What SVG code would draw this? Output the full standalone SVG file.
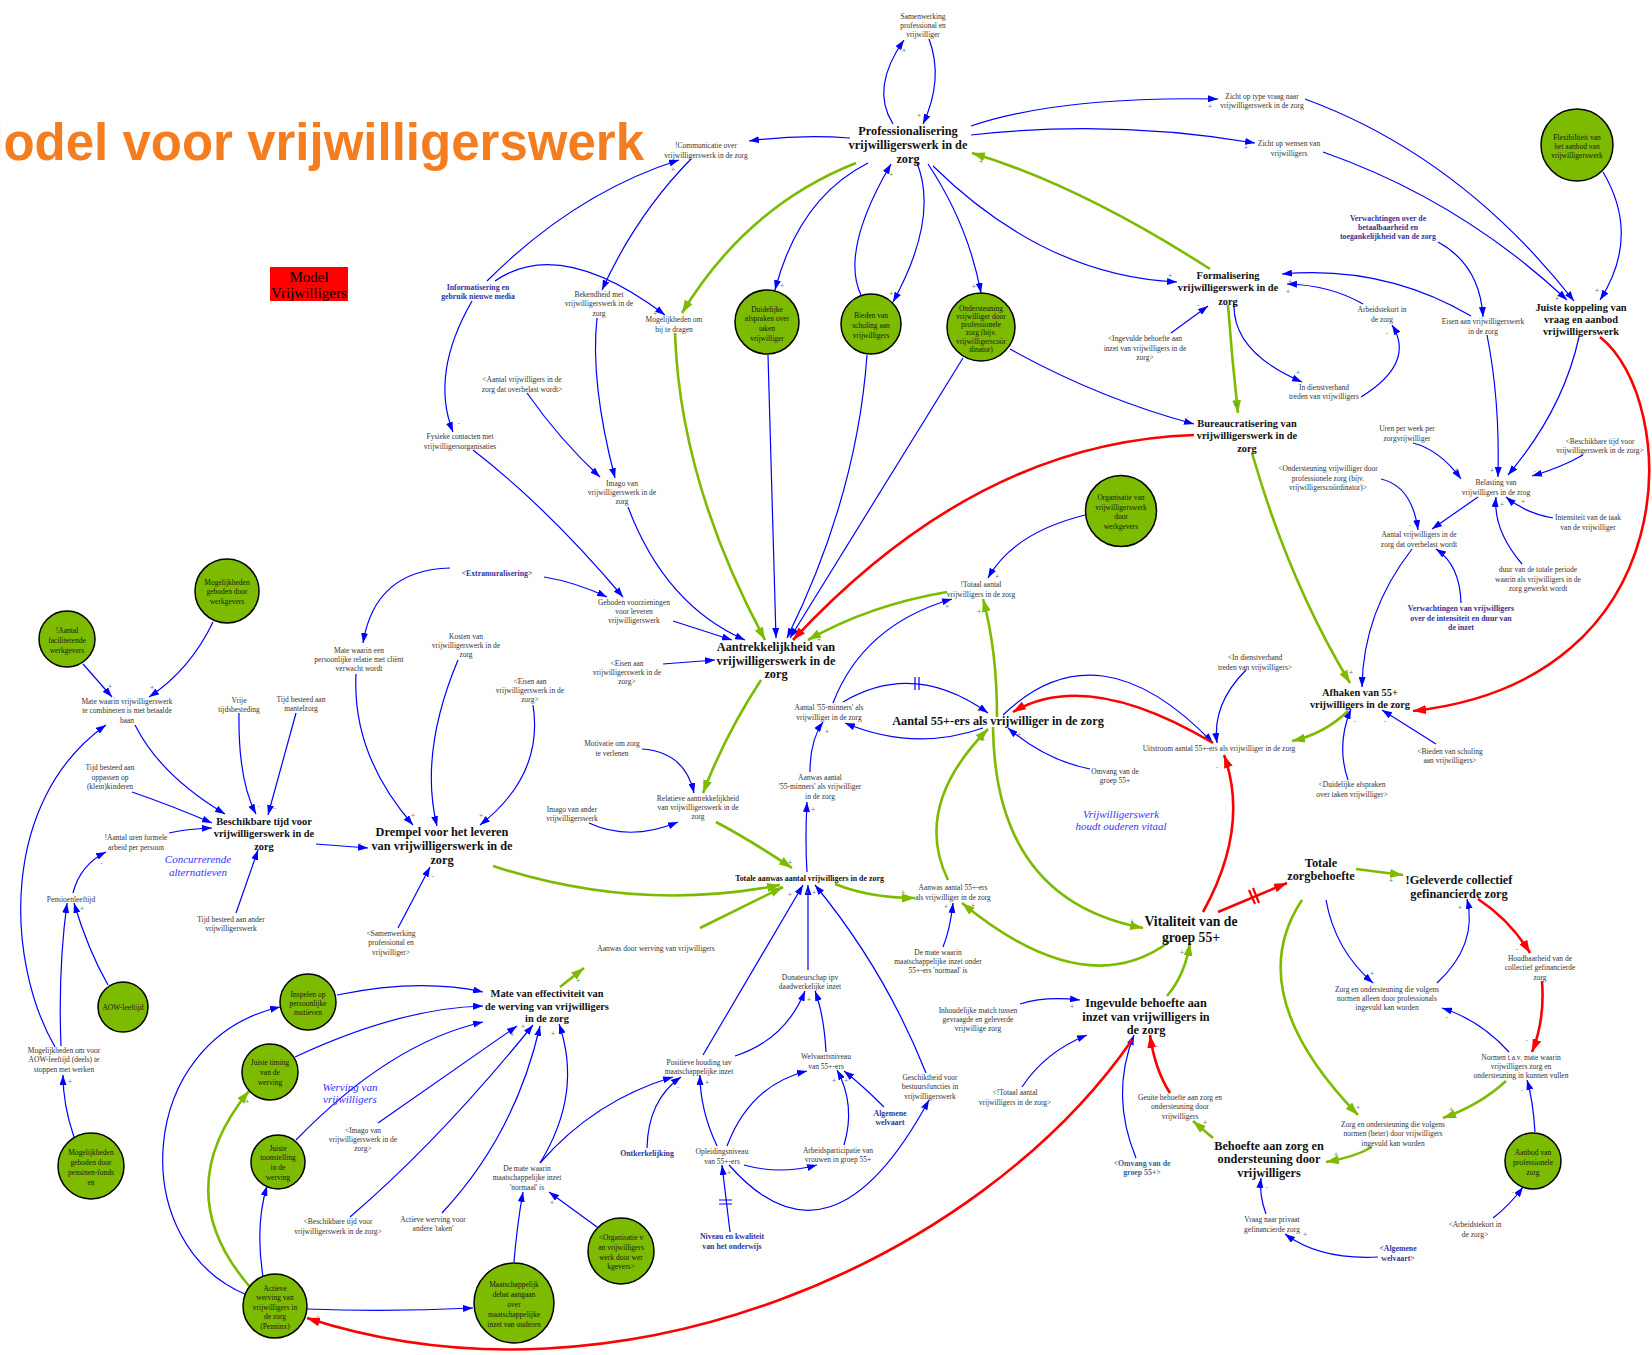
<svg xmlns="http://www.w3.org/2000/svg" width="1652" height="1355" viewBox="0 0 1652 1355">
<defs>
<style>
text{font-family:"Liberation Serif","Times New Roman",serif;}
text.title{font-family:"Liberation Sans",Arial,sans-serif;font-size:51px;font-weight:bold;fill:#f47d20;text-anchor:end;}
.t{font-size:7.5px;fill:#333;text-anchor:middle;}
.x{font-size:7.8px;font-weight:bold;fill:#333399;text-anchor:middle;}
.n{font-size:12.3px;font-weight:bold;fill:#111;text-anchor:middle;}
.m{font-size:10.4px;font-weight:bold;fill:#111;text-anchor:middle;}
.c{font-size:7.5px;fill:#1a1a1a;text-anchor:middle;}
.it{font-size:11px;font-style:italic;fill:#3333ff;text-anchor:middle;}
.p text{font-size:7px;fill:#777;text-anchor:middle;font-family:"Liberation Sans",sans-serif;}
.ci{fill:#7cbb00;stroke:#000;stroke-width:1.5;}
.lb{fill:none;stroke:#0000ff;stroke-width:1.2;marker-end:url(#ab);}
.lg{fill:none;stroke:#7cbb00;stroke-width:2.6;marker-end:url(#ag);}
.lr{fill:none;stroke:#ff0000;stroke-width:2.6;marker-end:url(#ar);}
.db{fill:none;stroke:#0000ff;stroke-width:1.2;}
.dr{fill:none;stroke:#ff0000;stroke-width:2.2;}
</style>
<marker id="ab" viewBox="0 0 10 7" refX="10" refY="3.5" markerWidth="10" markerHeight="7" orient="auto" markerUnits="userSpaceOnUse"><path d="M0,0 L10,3.5 L0,7 z" fill="#0000ff"/></marker>
<marker id="ag" viewBox="0 0 13 9" refX="13" refY="4.5" markerWidth="13" markerHeight="9" orient="auto" markerUnits="userSpaceOnUse"><path d="M0,0 L13,4.5 L0,9 z" fill="#7cbb00"/></marker>
<marker id="ar" viewBox="0 0 13 9" refX="13" refY="4.5" markerWidth="13" markerHeight="9" orient="auto" markerUnits="userSpaceOnUse"><path d="M0,0 L13,4.5 L0,9 z" fill="#ff0000"/></marker>
</defs>
<rect width="1652" height="1355" fill="#fff"/>

<g id="title"><text class="title" x="644" y="160">Model voor vrijwilligerswerk</text></g>
<g id="model-box"><rect x="270" y="267" width="78" height="34" fill="#ff0000"/><text x="309" y="282" font-size="15" fill="#000" text-anchor="middle">Model</text><text x="309" y="298" font-size="15" fill="#000" text-anchor="middle">Vrijwilligers</text></g>

<g id="connectors">
<path class="lb" d="M850,138 Q800,134 749,141"/>
<path class="lb" d="M487,281 Q575,193 679,160"/>
<path class="lb" d="M691,159 Q636,215 602,290"/>
<path class="lb" d="M495,281 Q560,236 665,315"/>
<path class="lb" d="M472,301 Q430,374 453,432"/>
<path class="lb" d="M597,318 Q590,382 615,478"/>
<path class="lb" d="M527,393 Q560,440 600,477"/>
<path class="lb" d="M473,450 Q548,508 623,597"/>
<path class="lb" d="M893,124 Q870,88 904,40"/>
<path class="lb" d="M929,39 Q944,79 923,124"/>
<path class="lb" d="M971,126 Q1060,96 1218,99"/>
<path class="lb" d="M971,135 Q1113,119 1255,143"/>
<path class="lb" d="M917,163 Q939,218 893,302"/>
<path class="lb" d="M861,295 Q840,251 891,164"/>
<path class="lb" d="M928,164 Q968,224 981,293"/>
<path class="lb" d="M933,166 Q1045,276 1177,282"/>
<path class="lb" d="M868,163 Q799,198 775,290"/>
<path class="lb" d="M768,355 L776,638"/>
<path class="lb" d="M867,355 Q857,496 787,638"/>
<path class="lb" d="M963,358 L790,638"/>
<path class="lb" d="M1010,349 Q1098,398 1194,424"/>
<path class="lb" d="M1171,333 L1208,306"/>
<path class="lb" d="M1305,99 Q1460,156 1574,301"/>
<path class="lb" d="M1323,152 Q1460,200 1567,300"/>
<path class="lb" d="M1603,172 Q1641,236 1600,300"/>
<path class="lb" d="M1438,242 Q1480,265 1483,317"/>
<path class="lb" d="M1471,316 Q1384,265 1282,274"/>
<path class="lb" d="M1363,304 Q1330,285 1287,284"/>
<path class="lb" d="M1234,303 Q1232,352 1302,382"/>
<path class="lb" d="M1361,397 Q1416,363 1392,325"/>
<path class="lb" d="M1487,335 Q1500,400 1498,477"/>
<path class="lb" d="M1579,337 Q1563,410 1508,475"/>
<path class="lb" d="M1413,443 Q1440,450 1461,479"/>
<path class="lb" d="M1583,455 Q1560,468 1532,476"/>
<path class="lb" d="M1381,479 Q1412,486 1418,530"/>
<path class="lb" d="M1478,497 L1432,529"/>
<path class="lb" d="M1553,518 Q1525,513 1506,497"/>
<path class="lb" d="M1522,564 Q1493,530 1496,497"/>
<path class="lb" d="M1461,603 Q1460,565 1436,549"/>
<path class="lb" d="M1412,549 Q1363,612 1362,687"/>
<path class="lb" d="M1348,780 Q1336,745 1351,709"/>
<path class="lb" d="M1436,744 L1382,710"/>
<path class="lb" d="M1003,715 Q1098,623 1213,743"/>
<path class="lb" d="M1246,670 Q1212,704 1217,743"/>
<path class="lb" d="M1090,769 Q1045,760 1008,728"/>
<path class="lb" d="M843,702 Q914,660 988,713"/>
<path class="db" d="M915,677 L915,690 M919,677 L919,690"/>
<path class="lb" d="M983,728 Q914,752 845,723"/>
<path class="lb" d="M833,703 Q863,625 952,599"/>
<path class="lb" d="M1085,515 Q1013,533 988,578"/>
<path class="lb" d="M807,872 Q805,840 807,802"/>
<path class="lb" d="M810,772 Q810,740 823,722"/>
<path class="lb" d="M943,947 Q950,930 953,903"/>
<path class="lb" d="M703,1055 L803,885"/>
<path class="lb" d="M808,970 L808,885"/>
<path class="lb" d="M926,1073 Q885,970 815,885"/>
<path class="lb" d="M735,1056 Q785,1040 805,991"/>
<path class="lb" d="M826,1052 Q824,1015 815,991"/>
<path class="lb" d="M717,1146 Q700,1110 700,1075"/>
<path class="lb" d="M727,1146 Q750,1085 807,1071"/>
<path class="lb" d="M744,1165 Q780,1175 817,1165"/>
<path class="lb" d="M729,1165 Q831,1281 929,1100"/>
<path class="lb" d="M844,1145 Q856,1105 837,1070"/>
<path class="lb" d="M884,1107 Q862,1085 844,1071"/>
<path class="lb" d="M730,1232 L722,1165"/>
<path class="db" d="M719,1200 L732,1200 M719,1204 L732,1204"/>
<path class="lb" d="M647,1148 Q648,1100 681,1077"/>
<path class="lb" d="M540,1163 Q595,1100 673,1077"/>
<path class="lb" d="M540,1163 Q583,1093 559,1024"/>
<path class="lb" d="M597,1227 L549,1192"/>
<path class="lb" d="M514,1262 Q517,1225 523,1192"/>
<path class="lb" d="M307,1309 Q390,1312 473,1308"/>
<path class="lb" d="M337,995 Q420,978 483,992"/>
<path class="lb" d="M295,1057 Q400,1008 483,1006"/>
<path class="lb" d="M296,1140 Q390,1043 483,1022"/>
<path class="lb" d="M378,1123 L517,1026"/>
<path class="lb" d="M350,1217 Q440,1140 533,1025"/>
<path class="lb" d="M442,1213 Q515,1135 540,1026"/>
<path class="lb" d="M247,1295 C125,1245 135,1040 280,1007"/>
<path class="lb" d="M263,1277 Q255,1225 267,1186"/>
<path class="lb" d="M458,660 Q419,753 437,826"/>
<path class="lb" d="M533,705 Q544,775 480,825"/>
<path class="lb" d="M356,674 Q352,755 413,825"/>
<path class="lb" d="M450,568 Q375,570 363,643"/>
<path class="lb" d="M544,577 Q575,582 607,597"/>
<path class="lb" d="M673,621 L732,640"/>
<path class="lb" d="M663,664 L715,660"/>
<path class="lb" d="M628,507 Q665,605 745,640"/>
<path class="lb" d="M642,749 Q685,752 694,793"/>
<path class="lb" d="M589,823 Q630,842 678,822"/>
<path class="lb" d="M316,844 L368,848"/>
<path class="lb" d="M135,725 Q160,775 225,814"/>
<path class="lb" d="M132,792 Q170,805 212,823"/>
<path class="lb" d="M239,713 Q238,780 256,814"/>
<path class="lb" d="M296,713 L268,815"/>
<path class="lb" d="M169,833 Q185,829 212,828"/>
<path class="lb" d="M236,913 L258,850"/>
<path class="lb" d="M73,893 Q80,865 106,852"/>
<path class="lb" d="M83,664 L112,697"/>
<path class="lb" d="M213,622 Q190,670 149,697"/>
<path class="lb" d="M55,1047 C5,960 0,800 106,725"/>
<path class="lb" d="M61,1046 Q58,970 67,903"/>
<path class="lb" d="M108,985 Q88,950 74,903"/>
<path class="lb" d="M74,1137 Q63,1105 63,1075"/>
<path class="lb" d="M398,928 L430,867"/>
<path class="lb" d="M1020,1004 Q1045,996 1080,1000"/>
<path class="lb" d="M1022,1087 Q1045,1052 1087,1035"/>
<path class="lb" d="M1136,1158 Q1110,1095 1134,1035"/>
<path class="lb" d="M1326,900 Q1335,950 1373,983"/>
<path class="lb" d="M1437,983 Q1478,945 1467,899"/>
<path class="lb" d="M1509,1052 Q1480,1020 1442,1008"/>
<path class="lb" d="M1535,1132 Q1533,1100 1527,1080"/>
<path class="lb" d="M1493,1218 Q1510,1205 1523,1187"/>
<path class="lb" d="M1266,1214 Q1259,1195 1261,1178"/>
<path class="lb" d="M1378,1257 Q1320,1260 1285,1234"/>

<path class="lg" d="M1210,269 Q1079,185 972,153"/>
<path class="lg" d="M856,163 Q747,206 682,313"/>
<path class="lg" d="M675,333 Q680,482 765,640"/>
<path class="lg" d="M1228,305 Q1232,360 1238,413"/>
<path class="lg" d="M1252,453 Q1289,582 1350,683"/>
<path class="lg" d="M1348,711 Q1324,734 1292,741"/>
<path class="lg" d="M1356,869 L1403,875"/>
<path class="lg" d="M947,592 Q870,605 808,640"/>
<path class="lg" d="M997,717 Q997,650 983,599"/>
<path class="lg" d="M993,727 Q995,900 1143,928"/>
<path class="lg" d="M948,880 Q912,806 988,729"/>
<path class="lg" d="M835,884 Q870,898 915,898"/>
<path class="lg" d="M1169,942 Q1085,1004 962,903"/>
<path class="lg" d="M493,866 Q636,913 780,885"/>
<path class="lg" d="M716,822 Q750,840 792,868"/>
<path class="lg" d="M761,680 Q725,735 703,793"/>
<path class="lg" d="M700,928 L783,887"/>
<path class="lg" d="M250,1287 Q167,1191 249,1091"/>
<path class="lg" d="M560,987 L584,968"/>
<path class="lg" d="M1213,1138 L1193,1121"/>
<path class="lg" d="M1167,996 Q1185,975 1190,943"/>
<path class="lg" d="M1302,900 Q1240,993 1358,1115"/>
<path class="lg" d="M1506,1081 Q1480,1105 1443,1118"/>
<path class="lg" d="M1372,1147 Q1355,1157 1326,1162"/>

<path class="lr" d="M1194,435 Q977,442 793,640"/>
<path class="lr" d="M1600,337 C1680,400 1690,680 1413,711"/>
<path class="lr" d="M1218,912 L1287,883"/>
<path class="dr" d="M1249,890 L1255,904 M1253,888 L1259,903"/>
<path class="lr" d="M1203,912 Q1250,827 1224,755"/>
<path class="lr" d="M1213,743 Q1087,668 1013,712"/>
<path class="lr" d="M1132,1040 C980,1260 620,1420 307,1318"/>
<path class="lr" d="M1170,1093 Q1155,1070 1150,1035"/>
<path class="lr" d="M1478,899 Q1510,920 1530,953"/>
<path class="lr" d="M1542,981 Q1545,1020 1532,1052"/>
</g>

<g id="nodes">
<g id="n-prof"><text class="n"><tspan x="908" y="135">Professionalisering</tspan><tspan x="908" y="148.7">vrijwilligerswerk in de</tspan><tspan x="908" y="162.5">zorg</tspan></text></g>
<g id="n-comm"><text class="t"><tspan x="706" y="148.3">!Communicatie over</tspan><tspan x="706" y="158">vrijwilligerswerk in de zorg</tspan></text></g>
<g id="n-bekend"><text class="t"><tspan x="599" y="296.6">Bekendheid met</tspan><tspan x="599" y="306">vrijwilligerswerk in de</tspan><tspan x="599" y="315.8">zorg</tspan></text></g>
<g id="n-mogbij"><text class="t"><tspan x="674" y="322">Mogelijkheden om</tspan><tspan x="674" y="331.8">bij te dragen</tspan></text></g>
<g id="n-aantover-s"><text class="t"><tspan x="522" y="382">&lt;Aantal vrijwilligers in de</tspan><tspan x="522" y="391.8">zorg dat overbelast wordt&gt;</tspan></text></g>
<g id="n-fysiek"><text class="t"><tspan x="460" y="439.3">Fysieke contacten met</tspan><tspan x="460" y="449.2">vrijwilligersorganisaties</tspan></text></g>
<g id="n-samen"><text class="t"><tspan x="923" y="18.6">Samenwerking</tspan><tspan x="923" y="27.8">professional en</tspan><tspan x="923" y="36.9">vrijwilliger</tspan></text></g>
<g id="n-zichttype"><text class="t"><tspan x="1262" y="99.3">Zicht op type vraag naar</tspan><tspan x="1262" y="108.3">vrijwilligerswerk in de zorg</tspan></text></g>
<g id="n-zichtwens"><text class="t"><tspan x="1289" y="146">Zicht op wensen van</tspan><tspan x="1289" y="156">vrijwilligers</tspan></text></g>
<g id="n-ingev-s"><text class="t"><tspan x="1145" y="341">&lt;Ingevulde behoefte aan</tspan><tspan x="1145" y="350.8">inzet van vrijwilligers in de</tspan><tspan x="1145" y="360.4">zorg&gt;</tspan></text></g>
<g id="n-arbeid"><text class="t"><tspan x="1382" y="311.6">Arbeidstekort in</tspan><tspan x="1382" y="321.6">de zorg</tspan></text></g>
<g id="n-dienst"><text class="t"><tspan x="1324" y="389.6">In dienstverband</tspan><tspan x="1324" y="398.6">treden van vrijwilligers</tspan></text></g>
<g id="n-eisen"><text class="t"><tspan x="1483" y="323.6">Eisen aan vrijwilligerswerk</tspan><tspan x="1483" y="333.6">in de zorg</tspan></text></g>
<g id="n-uren"><text class="t"><tspan x="1407" y="430.6">Uren per week per</tspan><tspan x="1407" y="440.6">zorgvrijwilliger</tspan></text></g>
<g id="n-beschik-s"><text class="t"><tspan x="1600" y="443.6">&lt;Beschikbare tijd voor</tspan><tspan x="1600" y="452.5">vrijwilligerswerk in de zorg&gt;</tspan></text></g>
<g id="n-matecomb"><text class="t"><tspan x="127" y="703.6">Mate waarin vrijwilligerswerk</tspan><tspan x="127" y="713">te combineren is met betaalde</tspan><tspan x="127" y="722.8">baan</tspan></text></g>
<g id="n-oppas"><text class="t"><tspan x="110" y="769.8">Tijd besteed aan</tspan><tspan x="110" y="780">oppassen op</tspan><tspan x="110" y="789.4">(klein)kinderen</tspan></text></g>
<g id="n-vrije"><text class="t"><tspan x="239" y="702.6">Vrije</tspan><tspan x="239" y="711.8">tijdsbesteding</tspan></text></g>
<g id="n-mantel"><text class="t"><tspan x="301" y="701.8">Tijd besteed aan</tspan><tspan x="301" y="711.4">mantelzorg</tspan></text></g>
<g id="n-urenf"><text class="t"><tspan x="136" y="839.8">!Aantal uren formele</tspan><tspan x="136" y="849.8">arbeid per persoon</tspan></text></g>
<g id="n-pens"><text class="t"><tspan x="71" y="901.8">Pensioenleeftijd</tspan></text></g>
<g id="n-relatie"><text class="t"><tspan x="359" y="652.8">Mate waarin een</tspan><tspan x="359" y="662">persoonlijke relatie met cliënt</tspan><tspan x="359" y="671.2">verwacht wordt</tspan></text></g>
<g id="n-imago"><text class="t"><tspan x="622" y="485.9">Imago van</tspan><tspan x="622" y="494.9">vrijwilligerswerk in de</tspan><tspan x="622" y="504.3">zorg</tspan></text></g>
<g id="n-geboden"><text class="t"><tspan x="634" y="604.9">Geboden voorzieningen</tspan><tspan x="634" y="613.9">voor leveren</tspan><tspan x="634" y="622.9">vrijwilligerswerk</tspan></text></g>
<g id="n-eisen-a"><text class="t"><tspan x="627" y="665.9">&lt;Eisen aan</tspan><tspan x="627" y="674.9">vrijwilligerswerk in de</tspan><tspan x="627" y="684.2">zorg&gt;</tspan></text></g>
<g id="n-kosten"><text class="t"><tspan x="466" y="638.6">Kosten van</tspan><tspan x="466" y="647.9">vrijwilligerswerk in de</tspan><tspan x="466" y="657.2">zorg</tspan></text></g>
<g id="n-eisen-b"><text class="t"><tspan x="530" y="683.6">&lt;Eisen aan</tspan><tspan x="530" y="692.6">vrijwilligerswerk in de</tspan><tspan x="530" y="701.9">zorg&gt;</tspan></text></g>
<g id="n-motiv"><text class="t"><tspan x="612" y="745.6">Motivatie om zorg</tspan><tspan x="612" y="755.6">te verlenen</tspan></text></g>
<g id="n-imagoander"><text class="t"><tspan x="572" y="811.6">Imago van ander</tspan><tspan x="572" y="820.8">vrijwilligerswerk</tspan></text></g>
<g id="n-relatieve"><text class="t"><tspan x="698" y="800.9">Relatieve aantrekkelijkheid</tspan><tspan x="698" y="809.9">van vrijwilligerswerk in de</tspan><tspan x="698" y="819.2">zorg</tspan></text></g>
<g id="n-aanwas55min"><text class="t"><tspan x="820" y="779.9">Aanwas aantal</tspan><tspan x="820" y="789.2">'55-minners' als vrijwilliger</tspan><tspan x="820" y="799.2">in de zorg</tspan></text></g>
<g id="n-aantal55min"><text class="t"><tspan x="829" y="709.9">Aantal '55-minners' als</tspan><tspan x="829" y="719.9">vrijwilliger in de zorg</tspan></text></g>
<g id="n-totaal"><text class="t"><tspan x="981" y="586.9">!Totaal aantal</tspan><tspan x="981" y="596.9">vrijwilligers in de zorg</tspan></text></g>
<g id="n-uitstroom"><text class="t"><tspan x="1219" y="750.9">Uitstroom aantal 55+-ers als vrijwilliger in de zorg</tspan></text></g>
<g id="n-dienst-s"><text class="t"><tspan x="1255" y="659.9">&lt;In dienstverband</tspan><tspan x="1255" y="669.9">treden van vrijwilligers&gt;</tspan></text></g>
<g id="n-omvang"><text class="t"><tspan x="1115" y="773.9">Omvang van de</tspan><tspan x="1115" y="782.9">groep 55+</tspan></text></g>
<g id="n-aanwas55"><text class="t"><tspan x="953" y="889.9">Aanwas aantal 55+-ers</tspan><tspan x="953" y="899.9">als vrijwilliger in de zorg</tspan></text></g>
<g id="n-onderst-s"><text class="t"><tspan x="1328" y="470.9">&lt;Ondersteuning vrijwilliger door</tspan><tspan x="1328" y="480.6">professionele zorg (bijv.</tspan><tspan x="1328" y="490">vrijwilligerscoördinator)&gt;</tspan></text></g>
<g id="n-belasting"><text class="t"><tspan x="1496" y="484.9">Belasting van</tspan><tspan x="1496" y="494.9">vrijwilligers in de zrog</tspan></text></g>
<g id="n-overbelast"><text class="t"><tspan x="1419" y="536.9">Aantal vrijwilligers in de</tspan><tspan x="1419" y="546.9">zorg dat overbelast wordt</tspan></text></g>
<g id="n-intens"><text class="t"><tspan x="1588" y="519.9">Intensiteit van de taak</tspan><tspan x="1588" y="529.9">van de vrijwilliger</tspan></text></g>
<g id="n-duur"><text class="t"><tspan x="1538" y="571.9">duur van de totale periode</tspan><tspan x="1538" y="581.9">waarin als vrijwilligers in de</tspan><tspan x="1538" y="591">zorg gewerkt wordt</tspan></text></g>
<g id="n-duid-s"><text class="t"><tspan x="1352" y="786.9">&lt;Duidelijke afspraken</tspan><tspan x="1352" y="796.9">over taken vrijwilliger&gt;</tspan></text></g>
<g id="n-bied-s"><text class="t"><tspan x="1450" y="753.9">&lt;Bieden van scholing</tspan><tspan x="1450" y="763">aan vrijwilligers&gt;</tspan></text></g>
<g id="n-tijdander"><text class="t"><tspan x="231" y="921.9">Tijd besteed aan ander</tspan><tspan x="231" y="931.2">vrijwilligerswerk</tspan></text></g>
<g id="n-samen-s"><text class="t"><tspan x="391" y="935.9">&lt;Samenwerking</tspan><tspan x="391" y="944.9">professional en</tspan><tspan x="391" y="954.9">vrijwilliger&gt;</tspan></text></g>
<g id="n-mogaow"><text class="t"><tspan x="64" y="1052.9">Mogelijkheden om voor</tspan><tspan x="64" y="1061.9">AOW-leeftijd (deels) te</tspan><tspan x="64" y="1071.6">stoppen met werken</tspan></text></g>
<g id="n-imago-s"><text class="t"><tspan x="363" y="1132.9">&lt;Imago van</tspan><tspan x="363" y="1141.9">vrijwilligerswerk in de</tspan><tspan x="363" y="1150.9">zorg&gt;</tspan></text></g>
<g id="n-beschik-s2"><text class="t"><tspan x="338" y="1223.9">&lt;Beschikbare tijd voor</tspan><tspan x="338" y="1233.9">vrijwilligerswerk in de zorg&gt;</tspan></text></g>
<g id="n-actander"><text class="t"><tspan x="433" y="1221.9">Actieve werving voor</tspan><tspan x="433" y="1230.9">andere 'taken'</tspan></text></g>
<g id="n-aanwasdoor"><text class="t"><tspan x="656" y="950.9">Aanwas door werving van vrijwilligers</tspan></text></g>
<g id="n-matenorm"><text class="t"><tspan x="527" y="1170.9">De mate waarin</tspan><tspan x="527" y="1179.9">maatschappelijke inzet</tspan><tspan x="527" y="1189.6">'normaal' is</tspan></text></g>
<g id="n-positief"><text class="t"><tspan x="699" y="1064.9">Positieve houding tav</tspan><tspan x="699" y="1073.9">maatschappelijke inzet</tspan></text></g>
<g id="n-opleid"><text class="t"><tspan x="722" y="1153.9">Opleidingsniveau</tspan><tspan x="722" y="1163.6">van 55+-ers</tspan></text></g>
<g id="n-donat"><text class="t"><tspan x="810" y="979.9">Donateurschap ipv</tspan><tspan x="810" y="988.9">daadwerkelijke inzet</tspan></text></g>
<g id="n-welv"><text class="t"><tspan x="826" y="1058.9">Welvaartsniveau</tspan><tspan x="826" y="1068.6">van 55+-ers</tspan></text></g>
<g id="n-arbpart"><text class="t"><tspan x="838" y="1152.9">Arbeidsparticipatie van</tspan><tspan x="838" y="1161.9">vrouwen in groep 55+</tspan></text></g>
<g id="n-geschikt"><text class="t"><tspan x="930" y="1079.9">Geschiktheid voor</tspan><tspan x="930" y="1088.9">bestuursfuncties in</tspan><tspan x="930" y="1098.6">vrijwilligerswerk</tspan></text></g>
<g id="n-mate55"><text class="t"><tspan x="938" y="954.9">De mate waarin</tspan><tspan x="938" y="963.9">maatschappelijke inzet onder</tspan><tspan x="938" y="972.9">55+-ers 'normaal' is</tspan></text></g>
<g id="n-inhoud"><text class="t"><tspan x="978" y="1012.9">Inhoudelijke match tussen</tspan><tspan x="978" y="1021.9">gevraagde en geleverde</tspan><tspan x="978" y="1030.9">vrijwillige zorg</tspan></text></g>
<g id="n-totaal-s"><text class="t"><tspan x="1015" y="1094.9">&lt;!Totaal aantal</tspan><tspan x="1015" y="1104.9">vrijwilligers in de zorg&gt;</tspan></text></g>
<g id="n-geuite"><text class="t"><tspan x="1180" y="1099.9">Geuite behoefte aan zorg en</tspan><tspan x="1180" y="1109">ondersteuning door</tspan><tspan x="1180" y="1118.6">vrijwilligers</tspan></text></g>
<g id="n-houdb"><text class="t"><tspan x="1540" y="960.9">Houdbaarheid van de</tspan><tspan x="1540" y="969.9">collectief gefinancierde</tspan><tspan x="1540" y="979.6">zorg</tspan></text></g>
<g id="n-zorgprof"><text class="t"><tspan x="1387" y="991.9">Zorg en ondersteuning die volgens</tspan><tspan x="1387" y="1000.9">normen alleen door professionals</tspan><tspan x="1387" y="1009.9">ingevuld kan worden</tspan></text></g>
<g id="n-normen"><text class="t"><tspan x="1521" y="1059.9">Normen t.a.v. mate waarin</tspan><tspan x="1521" y="1068.9">vrijwilligers zorg en</tspan><tspan x="1521" y="1077.9">ondersteuning in kunnen vullen</tspan></text></g>
<g id="n-zorgbeter"><text class="t"><tspan x="1393" y="1126.9">Zorg en ondersteuning die volgens</tspan><tspan x="1393" y="1135.9">normen (beter) door vrijwilligers</tspan><tspan x="1393" y="1145.6">ingevuld kan worden</tspan></text></g>
<g id="n-vraag"><text class="t"><tspan x="1272" y="1221.9">Vraag naar privaat</tspan><tspan x="1272" y="1231.9">gefinancierde zorg</tspan></text></g>
<g id="n-arbeid-s"><text class="t"><tspan x="1475" y="1226.9">&lt;Arbeidstekort in</tspan><tspan x="1475" y="1236.9">de zorg&gt;</tspan></text></g>

<g id="x-info"><text class="x"><tspan x="478" y="289.5">Informatisering en</tspan><tspan x="478" y="299">gebruik nieuwe media</tspan></text></g>
<g id="x-verwbet"><text class="x"><tspan x="1388" y="220.9">Verwachtingen over de</tspan><tspan x="1388" y="229.9">betaalbaarheid en</tspan><tspan x="1388" y="238.9">toegankelijkheid van de zorg</tspan></text></g>
<g id="x-extra"><text class="x"><tspan x="497" y="575.9">&lt;Extramuralisering&gt;</tspan></text></g>
<g id="x-verwint"><text class="x"><tspan x="1461" y="610.9">Verwachtingen van vrijwilligers</tspan><tspan x="1461" y="620.9">over de intensiteit en duur van</tspan><tspan x="1461" y="629.9">de inzet</tspan></text></g>
<g id="x-ontk"><text class="x"><tspan x="647" y="1155.9">Ontkerkelijking</tspan></text></g>
<g id="x-niveau"><text class="x"><tspan x="732" y="1238.9">Niveau en kwaliteit</tspan><tspan x="732" y="1249">van het onderwijs</tspan></text></g>
<g id="x-algw"><text class="x"><tspan x="890" y="1115.9">Algemene</tspan><tspan x="890" y="1124.9">welvaart</tspan></text></g>
<g id="x-omvang-s"><text class="x" style="fill:#336699"><tspan x="1142" y="1165.9">&lt;Omvang van de</tspan><tspan x="1142" y="1175.2">groep 55+&gt;</tspan></text></g>
<g id="x-algw-s"><text class="x"><tspan x="1398" y="1250.9">&lt;Algemene</tspan><tspan x="1398" y="1260.9">welvaart&gt;</tspan></text></g>

<g id="n-form"><text class="m"><tspan x="1228" y="279">Formalisering</tspan><tspan x="1228" y="291.3">vrijwilligerswerk in de</tspan><tspan x="1228" y="304.5">zorg</tspan></text></g>
<g id="n-bureau"><text class="m"><tspan x="1247" y="426.7">Bureaucratisering van</tspan><tspan x="1247" y="439">vrijwilligerswerk in de</tspan><tspan x="1247" y="451.5">zorg</tspan></text></g>
<g id="n-juiste"><text class="m"><tspan x="1581" y="310.7">Juiste koppeling van</tspan><tspan x="1581" y="322.7">vraag en aanbod</tspan><tspan x="1581" y="334.7">vrijwilligerswerk</tspan></text></g>
<g id="n-aantrek"><text class="n"><tspan x="776" y="651.3">Aantrekkelijkheid van</tspan><tspan x="776" y="664.6">vrijwilligerswerk in de</tspan><tspan x="776" y="678.3">zorg</tspan></text></g>
<g id="n-drempel"><text class="n"><tspan x="442" y="836.3">Drempel voor het leveren</tspan><tspan x="442" y="850.3">van vrijwilligerswerk in de</tspan><tspan x="442" y="863.5">zorg</tspan></text></g>
<g id="n-beschik"><text class="m"><tspan x="264" y="824.7">Beschikbare tijd voor</tspan><tspan x="264" y="836.9">vrijwilligerswerk in de</tspan><tspan x="264" y="849.9">zorg</tspan></text></g>
<g id="n-aantal55"><text class="n"><tspan x="998" y="725.3">Aantal 55+-ers als vrijwilliger in de zorg</tspan></text></g>
<g id="n-afhaken"><text class="m"><tspan x="1360" y="695.6">Afhaken van 55+</tspan><tspan x="1360" y="707.8">vrijwilligers in de zorg</tspan></text></g>
<g id="n-totzorg"><text class="n"><tspan x="1321" y="867.3">Totale</tspan><tspan x="1321" y="880.3">zorgbehoefte</tspan></text></g>
<g id="n-geleverd"><text class="n"><tspan x="1459" y="884.3">!Geleverde collectief</tspan><tspan x="1459" y="897.6">gefinancierde zorg</tspan></text></g>
<g id="n-vital"><text class="n" style="font-size:13.7px"><tspan x="1191" y="925.8">Vitaliteit van de</tspan><tspan x="1191" y="941.7">groep 55+</tspan></text></g>
<g id="n-ingev"><text class="n"><tspan x="1146" y="1007.3">Ingevulde behoefte aan</tspan><tspan x="1146" y="1020.5">inzet van vrijwilligers in</tspan><tspan x="1146" y="1033.5">de zorg</tspan></text></g>
<g id="n-mateeff"><text class="m"><tspan x="547" y="997">Mate van effectiviteit van</tspan><tspan x="547" y="1010.3">de werving van vrijwilligers</tspan><tspan x="547" y="1022">in de zorg</tspan></text></g>
<g id="n-behoefte"><text class="n"><tspan x="1269" y="1150">Behoefte aan zorg en</tspan><tspan x="1269" y="1162.8">ondersteuning door</tspan><tspan x="1269" y="1176.5">vrijwilligers</tspan></text></g>
<g id="n-totaanwas"><text class="n" style="font-size:7.9px"><tspan x="809.5" y="880.8">Totale aanwas aantal vrijwilligers in de zorg</tspan></text></g>

<g id="c-duid"><circle class="ci" cx="767" cy="322" r="32"/><text class="c"><tspan x="767" y="311.6">Duidelijke</tspan><tspan x="767" y="321.4">afspraken over</tspan><tspan x="767" y="330.8">taken</tspan><tspan x="767" y="340.6">vrijwilliger</tspan></text></g>
<g id="c-bied"><circle class="ci" cx="871" cy="324" r="30"/><text class="c"><tspan x="871" y="317.6">Bieden van</tspan><tspan x="871" y="327.6">scholing aan</tspan><tspan x="871" y="337.6">vrijwilligers</tspan></text></g>
<g id="c-onderst"><circle class="ci" cx="981" cy="327" r="34"/><text class="c"><tspan x="981" y="310.6">Ondersteuning</tspan><tspan x="981" y="318.8">vrijwilliger door</tspan><tspan x="981" y="327">professionele</tspan><tspan x="981" y="335.4">zorg (bijv.</tspan><tspan x="981" y="343.6">vrijwilligerscoör</tspan><tspan x="981" y="351.8">dinator)</tspan></text></g>
<g id="c-flex"><circle class="ci" cx="1577" cy="145" r="36"/><text class="c"><tspan x="1577" y="139.6">Flexibiliteit van</tspan><tspan x="1577" y="148.6">het aanbod van</tspan><tspan x="1577" y="157.9">vrijwilligerswerk</tspan></text></g>
<g id="c-facil"><circle class="ci" cx="67" cy="639" r="28"/><text class="c"><tspan x="67" y="632.6">!Aantal</tspan><tspan x="67" y="642.6">faciliterende</tspan><tspan x="67" y="652.6">werkgevers</tspan></text></g>
<g id="c-mogwerk"><circle class="ci" cx="227" cy="591" r="32"/><text class="c"><tspan x="227" y="584.6">Mogelijkheden</tspan><tspan x="227" y="593.8">geboden door</tspan><tspan x="227" y="603.6">werkgevers</tspan></text></g>
<g id="c-org"><circle class="ci" cx="1121" cy="511" r="35.5"/><text class="c"><tspan x="1121" y="499.9">Organisatie van</tspan><tspan x="1121" y="509.6">vrijwilligerswerk</tspan><tspan x="1121" y="518.6">door</tspan><tspan x="1121" y="528.6">werkgevers</tspan></text></g>
<g id="c-aow"><circle class="ci" cx="123" cy="1007" r="25"/><text class="c"><tspan x="123" y="1009.6">AOW-leeftijd</tspan></text></g>
<g id="c-pensfonds"><circle class="ci" cx="91" cy="1166" r="33"/><text class="c"><tspan x="91" y="1154.9">Mogelijkheden</tspan><tspan x="91" y="1164.9">geboden door</tspan><tspan x="91" y="1175.3">pensinen-fonds</tspan><tspan x="91" y="1184.9">en</tspan></text></g>
<g id="c-inspelen"><circle class="ci" cx="308" cy="1002" r="28"/><text class="c"><tspan x="308" y="996.6">Inspelen op</tspan><tspan x="308" y="1005.9">persoonlijke</tspan><tspan x="308" y="1015.3">motieven</tspan></text></g>
<g id="c-timing"><circle class="ci" cx="270" cy="1072" r="28"/><text class="c"><tspan x="270" y="1064.9">Juiste timing</tspan><tspan x="270" y="1074.9">van de</tspan><tspan x="270" y="1084.9">werving</tspan></text></g>
<g id="c-toon"><circle class="ci" cx="278" cy="1162" r="27"/><text class="c"><tspan x="278" y="1150.9">Juiste</tspan><tspan x="278" y="1160.3">toonstelling</tspan><tspan x="278" y="1169.9">in de</tspan><tspan x="278" y="1179.9">werving</tspan></text></g>
<g id="c-actieve"><circle class="ci" cx="275" cy="1306" r="32"/><text class="c"><tspan x="275" y="1290.9">Actieve</tspan><tspan x="275" y="1300.3">werving van</tspan><tspan x="275" y="1309.6">vrijwilligers in</tspan><tspan x="275" y="1318.6">de zorg</tspan><tspan x="275" y="1328.6">(Penninx)</tspan></text></g>
<g id="c-org2"><circle class="ci" cx="621" cy="1251" r="33"/><text class="c"><tspan x="621" y="1239.9">&lt;Organisatie v</tspan><tspan x="621" y="1249.9">an vrijwilligers</tspan><tspan x="621" y="1259.9">werk door wer</tspan><tspan x="621" y="1269.3">kgevers&gt;</tspan></text></g>
<g id="c-debat"><circle class="ci" cx="514" cy="1303" r="40"/><text class="c"><tspan x="514" y="1286.9">Maatschappelijk</tspan><tspan x="514" y="1296.9">debat aangaan</tspan><tspan x="514" y="1306.9">over</tspan><tspan x="514" y="1316.9">maatschappelijke</tspan><tspan x="514" y="1326.9">inzet van ouderen</tspan></text></g>
<g id="c-aanbod"><circle class="ci" cx="1533" cy="1161" r="28"/><text class="c"><tspan x="1533" y="1154.6">Aanbod van</tspan><tspan x="1533" y="1164.6">professionele</tspan><tspan x="1533" y="1174.6">zorg</tspan></text></g>

<g id="comments">
<text class="it"><tspan x="198" y="863">Concurrerende</tspan><tspan x="198" y="876">alternatieven</tspan></text>
<text class="it"><tspan x="1121" y="818">Vrijwilligerswerk</tspan><tspan x="1121" y="830">houdt ouderen vitaal</tspan></text>
<text class="it"><tspan x="350" y="1091">Werving van</tspan><tspan x="350" y="1103">vrijwilligers</tspan></text>
</g>
</g>

<g id="polarity" class="p">
<text x="673" y="172">+</text><text x="655" y="316">+</text><text x="904" y="53">+</text><text x="919" y="118">+</text><text x="1210" y="109">+</text><text x="981" y="164">+</text><text x="891" y="296">+</text><text x="891" y="177">+</text><text x="974" y="289">+</text><text x="1170" y="278">+</text><text x="782" y="288">+</text><text x="1246" y="150">+</text><text x="1597" y="293">+</text><text x="1557" y="301">+</text><text x="1290" y="284">+</text><text x="1288" y="294">+</text><text x="1298" y="375">+</text><text x="1236" y="407">+</text><text x="110" y="689">+</text><text x="152" y="690">+</text><text x="413" y="818">+</text><text x="82" y="911">+</text><text x="481" y="818">+</text><text x="790" y="865">+</text><text x="813" y="812">+</text><text x="827" y="734">+</text><text x="819" y="642">+</text><text x="790" y="897">+</text><text x="807" y="895">+</text><text x="814" y="895">+</text><text x="997" y="579">+</text><text x="947" y="609">+</text><text x="979" y="614">+</text><text x="983" y="742">+</text><text x="1019" y="737">+</text><text x="1206" y="742">+</text><text x="903" y="895">+</text><text x="946" y="909">+</text><text x="973" y="908">+</text><text x="979" y="713">+</text><text x="1456" y="473">+</text><text x="1492" y="473">+</text><text x="1523" y="504">+</text><text x="1502" y="507">+</text><text x="1351" y="675">+</text><text x="1391" y="883">+</text><text x="70" y="1084">+</text><text x="247" y="1104">+</text><text x="578" y="983">+</text><text x="512" y="1037">+</text><text x="523" y="1029">+</text><text x="553" y="1036">+</text><text x="552" y="1205">+</text><text x="707" y="1085">+</text><text x="729" y="1175">+</text><text x="809" y="1002">+</text><text x="1132" y="924">+</text><text x="1182" y="955">+</text><text x="1072" y="1009">+</text><text x="1205" y="1125">+</text><text x="834" y="1083">+</text><text x="846" y="1083">+</text><text x="922" y="1110">+</text><text x="1460" y="910">+</text><text x="1372" y="976">+</text><text x="1358" y="1110">+</text><text x="1451" y="1112">+</text><text x="1336" y="1157">+</text><text x="1305" y="1237">+</text>
<text x="459" y="425">-</text><text x="1198" y="307">-</text><text x="1188" y="419">-</text><text x="1387" y="335">-</text><text x="205" y="819">-</text><text x="259" y="808">-</text><text x="275" y="810">-</text><text x="360" y="845">-</text><text x="102" y="865">-</text><text x="433" y="878">-</text><text x="1217" y="769">-</text><text x="1410" y="527">-</text><text x="1535" y="473">-</text><text x="1423" y="709">-</text><text x="1355" y="723">-</text><text x="1385" y="723">-</text><text x="318" y="1318">-</text><text x="678" y="1089">-</text><text x="1157" y="1048">-</text><text x="1517" y="951">-</text><text x="1527" y="1042">-</text><text x="1447" y="1019">-</text><text x="1522" y="1092">-</text><text x="1513" y="1194">-</text><text x="1267" y="1189">-</text>
</g>
</svg>
